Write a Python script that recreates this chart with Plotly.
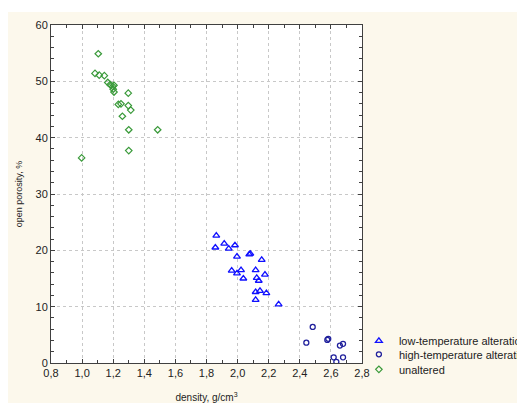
import plotly.graph_objects as go

# low-temperature alteration (triangles)
low_x = [1.863, 1.857, 1.914, 1.943, 1.983, 1.996, 2.075, 2.082, 2.155, 1.962, 1.996,
         2.022, 2.037, 2.116, 2.176, 2.123, 2.136, 2.116, 2.144, 2.185, 2.116, 2.264]
low_y = [22.6, 20.5, 21.2, 20.3, 20.9, 18.9, 19.3, 19.4, 18.3, 16.4, 15.9,
         16.5, 15.0, 16.5, 15.7, 15.1, 14.6, 12.6, 12.8, 12.4, 11.2, 10.4]

# high-temperature alteration (circles)
high_x = [2.483, 2.442, 2.577, 2.583, 2.658, 2.678, 2.618, 2.678, 2.635]
high_y = [6.4, 3.6, 4.1, 4.3, 3.1, 3.4, 1.0, 1.0, 0.2]

# unaltered (diamonds)
un_x = [1.104, 1.083, 1.110, 1.143, 1.165, 1.180, 1.197, 1.205, 1.200, 1.205,
        1.297, 1.233, 1.250, 1.297, 1.313, 1.259, 1.300, 1.486, 1.300, 0.997]
un_y = [54.9, 51.4, 51.1, 51.0, 49.8, 49.4, 49.1, 49.3, 48.6, 48.1,
        47.9, 45.9, 46.0, 45.7, 44.9, 43.8, 41.4, 41.4, 37.7, 36.4]

x_ticks = [0.8, 1.0, 1.2, 1.4, 1.6, 1.8, 2.0, 2.2, 2.4, 2.6, 2.8]
y_ticks = [0, 10, 20, 30, 40, 50, 60]

FONT = "Liberation Sans, Arial, sans-serif"
TXT = "#222222"

fig = go.Figure()
fig.add_trace(go.Scatter(x=low_x, y=low_y, mode="markers", name="low-temperature alteration",
                         legend="legend",
                         marker=dict(symbol="triangle-up-open", size=6, color="#1010ff",
                                     line=dict(width=1.3, color="#1010ff"))))
fig.add_trace(go.Scatter(x=high_x, y=high_y, mode="markers", name="high-temperature alteration",
                         legend="legend2",
                         marker=dict(symbol="circle-open", size=5, color="#20209c",
                                     line=dict(width=1.3, color="#20209c"))))
fig.add_trace(go.Scatter(x=un_x, y=un_y, mode="markers", name="unaltered",
                         legend="legend3",
                         marker=dict(symbol="diamond-open", size=5, color="#3a9a3a",
                                     line=dict(width=1.2, color="#3a9a3a"))))

axis_common = dict(
    showline=True, linecolor="#404040", linewidth=1, mirror="allticks",
    ticks="inside", ticklen=4, tickcolor="#404040",
    showgrid=True, gridcolor="#c8c8c8", griddash="dot", gridwidth=1,
    zeroline=False, automargin=False,
    tickfont=dict(family=FONT, size=11, color=TXT),
)

fig.update_xaxes(range=[0.8, 2.8], tickvals=x_ticks, tickformat=".1f",
                 minor=dict(ticks="inside", dtick=0.1, ticklen=3, tickcolor="#404040", showgrid=False),
                 title=dict(text="density, g/cm<sup>3</sup>", font=dict(family=FONT, size=10, color=TXT),
                            standoff=18),
                 **axis_common)
fig.update_yaxes(range=[0, 60], tickvals=y_ticks,
                 minor=dict(ticks="inside", dtick=2, ticklen=3, tickcolor="#404040", showgrid=False),
                 title=dict(text="open porosity, %", font=dict(family=FONT, size=9, color=TXT),
                            standoff=11),
                 **axis_common)

fig.add_shape(type="rect", xref="paper", yref="paper", x0=-0.2, x1=1.6, y0=-0.2, y1=1.0385,
              fillcolor="#fcf8ec", line=dict(width=0), layer="below")
fig.add_shape(type="rect", xref="paper", yref="paper", x0=0, x1=1, y0=0, y1=1,
              fillcolor="white", line=dict(width=0), layer="below")

leg_common = dict(x=0.99, xanchor="left", yanchor="top",
                  font=dict(family=FONT, size=11, color=TXT),
                  bgcolor="rgba(0,0,0,0)", itemwidth=30)

fig.update_layout(
    width=517, height=395,
    margin=dict(l=43, r=163, t=17, b=40, autoexpand=False),
    paper_bgcolor="white", plot_bgcolor="rgba(0,0,0,0)",
    separators=",.",
    showlegend=True,
    legend=dict(y=0.1085, **leg_common),
    legend2=dict(y=0.0686, **leg_common),
    legend3=dict(y=0.0242, **leg_common),
    font=dict(family=FONT, color=TXT),
)

fig.write_html("out.html")
